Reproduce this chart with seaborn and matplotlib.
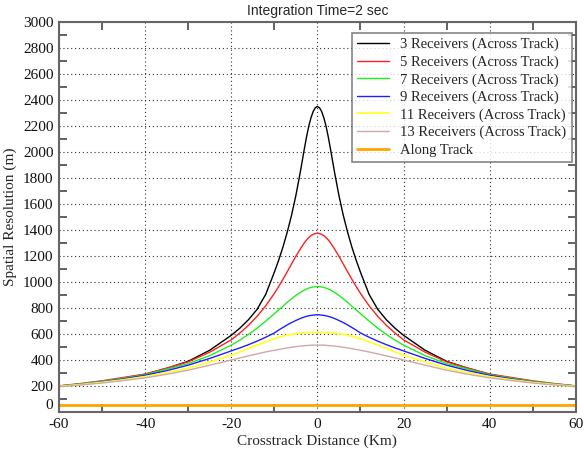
import numpy as np
import pandas as pd
import matplotlib
matplotlib.use("Agg")
import matplotlib.pyplot as plt
from matplotlib.ticker import MultipleLocator
import seaborn as sns

# Cross-track distance samples (km)
distance = [-60, -55, -50, -45, -40, -35, -30, -25, -20, -18, -16, -14, -12, -10,
            -9, -8, -7, -6, -5, -4, -3, -2.5, -2, -1.5, -1, -0.5, 0,
            0.5, 1, 1.5, 2, 2.5, 3, 4, 5, 6, 7, 8, 9,
            10, 12, 14, 16, 18, 20, 25, 30, 35, 40, 45, 50, 55, 60]

# Spatial resolution (m) for each receiver configuration
res_3 = [200, 215, 235, 260, 290, 335, 390, 475, 590, 645, 710, 790, 905, 1075,
         1167, 1269, 1384, 1514, 1665, 1840, 2030, 2120, 2200, 2262, 2310, 2340, 2350,
         2340, 2310, 2262, 2200, 2120, 2030, 1840, 1665, 1514, 1384, 1269, 1167,
         1075, 905, 790, 710, 645, 590, 475, 390, 335, 290, 260, 235, 215, 200]
res_5 = [201, 219, 240, 266, 292, 338, 386, 460, 555, 608, 667, 736, 817, 912,
         965, 1021, 1079, 1139, 1198, 1253, 1303, 1324, 1342, 1356, 1366, 1372, 1375,
         1372, 1366, 1356, 1342, 1324, 1303, 1253, 1198, 1139, 1079, 1021, 965,
         912, 817, 736, 667, 608, 555, 460, 386, 338, 292, 266, 240, 219, 201]
res_7 = [200, 216, 236, 260, 287, 330, 372, 434, 514, 553, 597, 645, 699, 756,
         785, 814, 844, 871, 897, 920, 939, 946, 953, 958, 962, 964, 965,
         964, 962, 958, 953, 946, 939, 920, 897, 871, 844, 814, 785,
         756, 699, 645, 597, 553, 514, 434, 372, 330, 287, 260, 236, 216, 200]
res_9 = [198, 213, 232, 255, 282, 318, 360, 412, 470, 493, 518, 545, 575, 608,
         630, 650, 670, 688, 704, 719, 731, 736, 740, 743, 745, 747, 748,
         747, 745, 743, 740, 736, 731, 719, 704, 688, 670, 650, 630,
         608, 575, 545, 518, 493, 470, 412, 360, 318, 282, 255, 232, 213, 198]
res_11 = [197, 211, 228, 248, 272, 302, 337, 385, 438, 463, 490, 515, 540, 565,
          574, 583, 591, 597, 602, 606, 609, 610, 611, 612, 612, 613, 613,
          613, 612, 612, 611, 610, 609, 606, 602, 597, 591, 583, 574,
          565, 540, 515, 490, 463, 438, 385, 337, 302, 272, 248, 228, 211, 197]
res_13 = [195, 208, 223, 242, 263, 290, 322, 360, 400, 416, 432, 447, 462, 475,
          481, 487, 493, 498, 503, 507, 510, 511, 513, 514, 514, 515, 515,
          515, 514, 514, 513, 511, 510, 507, 503, 498, 493, 487, 481,
          475, 462, 447, 432, 416, 400, 360, 322, 290, 263, 242, 223, 208, 195]
res_along = [55] * len(distance)

labels = ["3 Receivers (Across Track)", "5 Receivers (Across Track)",
          "7 Receivers (Across Track)", "9 Receivers (Across Track)",
          "11 Receivers (Across Track)", "13 Receivers (Across Track)",
          "Along Track"]
series = [res_3, res_5, res_7, res_9, res_11, res_13, res_along]
colors = ["#000000", "#ff2020", "#20ee20", "#2020ff", "#ffff30", "#d0a8a8", "#ffa500"]
widths = [1.0, 1.0, 1.0, 1.0, 1.3, 1.0, 2.0]

df = pd.concat(
    [pd.DataFrame({"distance": distance, "resolution": vals, "series": lab})
     for lab, vals in zip(labels, series)],
    ignore_index=True,
)

sns.set_theme(style="white")
plt.rcParams["font.family"] = ["Liberation Serif", "DejaVu Serif"]
plt.rcParams["axes.unicode_minus"] = False

fig = plt.figure(figsize=(5.84, 4.53), dpi=100)
ax = fig.add_axes([0.101, 0.0905, 0.885, 0.861])

for lab, col, lw in zip(labels, colors, widths):
    sns.lineplot(data=df[df["series"] == lab], x="distance", y="resolution",
                 color=col, linewidth=lw, label=lab, ax=ax, estimator=None,
                 sort=False)

ax.set_xlim(-60, 60)
ax.set_ylim(0, 3000)
ax.xaxis.set_major_locator(MultipleLocator(20))
ax.xaxis.set_minor_locator(MultipleLocator(10))
ax.yaxis.set_major_locator(MultipleLocator(200))
ax.yaxis.set_minor_locator(MultipleLocator(100))
ax.grid(True, which="major", color="#333333", linestyle=(0, (1, 2.5)), linewidth=0.8)
ax.tick_params(which="both", direction="in", bottom=True, left=True, top=True,
               right=True, labelsize=11, colors="#555555", labelcolor="#111111")
ax.tick_params(which="major", length=0, pad=4)
ax.tick_params(which="minor", length=6, width=1.3)
for sp in ax.spines.values():
    sp.set_color("#666666")
    sp.set_linewidth(1.5)

# lift the "0" label so it clears the x tick labels
fig.canvas.draw()
for t in ax.get_yticklabels():
    if t.get_text() == "0":
        t.set_verticalalignment("bottom")

ax.set_xlabel("Crosstrack Distance (Km)", fontsize=11, labelpad=3)
ax.set_ylabel("Spatial Resolution (m)", fontsize=11, labelpad=4)
ax.set_title("Integration Time=2 sec", fontsize=10, family="Liberation Sans",
             pad=5)

leg = ax.legend(loc="upper right", bbox_to_anchor=(0.992, 0.972),
                borderaxespad=0, fontsize=10.5, frameon=True, fancybox=False,
                edgecolor="#666666", handlelength=2.2, handletextpad=0.8,
                borderpad=0.35, labelspacing=0.28)
leg.get_frame().set_linewidth(1.2)
for h, lw in zip(leg.get_lines(), widths):
    h.set_linewidth(lw)

fig.savefig("out.png", dpi=100)
